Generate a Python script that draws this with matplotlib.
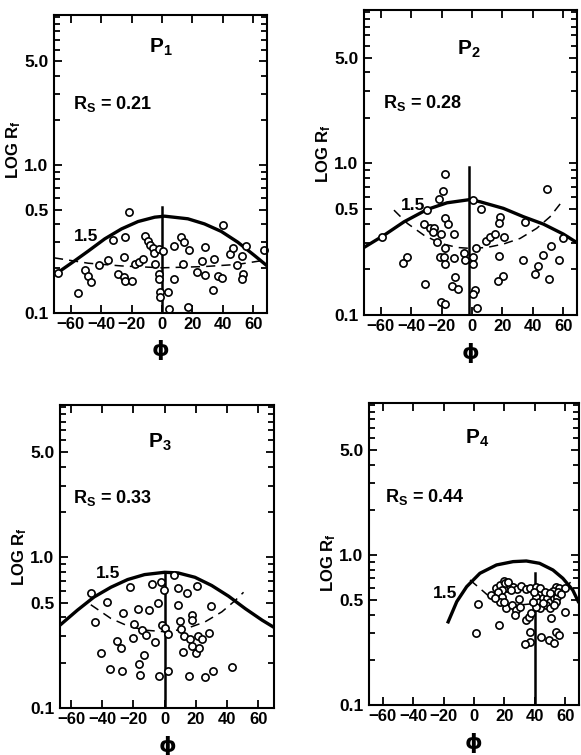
"""
Rf/phi plots for four populations (P1-P4), log Rf against phi
"""
import matplotlib
matplotlib.use('Agg')
import matplotlib.pyplot as plt
from matplotlib.ticker import FixedLocator, FixedFormatter, NullFormatter

FONT = ['Liberation Sans', 'DejaVu Sans']
plt.rcParams['font.family'] = FONT
plt.rcParams['font.weight'] = 'bold'
plt.rcParams['mathtext.fontset'] = 'custom'
plt.rcParams['mathtext.rm'] = 'Liberation Sans:bold'
plt.rcParams['mathtext.it'] = 'Liberation Sans:bold'
plt.rcParams['mathtext.bf'] = 'Liberation Sans:bold'

# --- P1 ---
p1_phi = [-21.8, 40.0, -68.6, -55.5, -50.4, -48.5, -46.7, -41.7, -35.8, -32.3, -28.8, -25.1,
          -24.2, -19.9, -25.3, -24.5, -17.5, -15.1, -12.7, -11.4, -9.4, -7.6, -6.1, -5.2, -4.8,
          -2.2, 0.4, -2.0, -2.0, -1.3, -1.3, 3.7, 4.4, 7.9, 7.9, 12.2, 14.4, 17.7, 14.0, 17.0,
          23.1, 26.0, 28.2, 28.4, 33.6, 34.5, 36.7, 39.5, 44.8, 46.9, 49.1, 52.4, 53.1, 52.6,
          55.5, 66.8]
p1_rf = [0.482, 0.396, 0.186, 0.137, 0.194, 0.178, 0.163, 0.210, 0.228, 0.309, 0.184, 0.176,
         0.165, 0.164, 0.240, 0.324, 0.213, 0.220, 0.230, 0.332, 0.307, 0.289, 0.276, 0.256, 0.214,
         0.272, 0.262, 0.184, 0.171, 0.139, 0.129, 0.139, 0.107, 0.171, 0.284, 0.327, 0.301, 0.267,
         0.216, 0.110, 0.188, 0.226, 0.180, 0.280, 0.142, 0.230, 0.177, 0.172, 0.251, 0.276, 0.210,
         0.242, 0.183, 0.169, 0.282, 0.265]
p1_solid_phi = [-71, -57.2, -48.5, -37.6, -26.6, -15.7, -4.8, 1.7, 17.0, 27.9, 38.9, 49.8, 60.7, 69.4]
p1_solid_rf = [0.180, 0.226, 0.262, 0.317, 0.370, 0.415, 0.444, 0.451, 0.433, 0.400, 0.356, 0.301,
               0.245, 0.207]
p1_dash_phi = [-71, -48.5, -26.6, 0.0, 27.9, 49.8, 69.4]
p1_dash_rf = [0.236, 0.217, 0.208, 0.202, 0.206, 0.213, 0.229]

# --- P2 ---
p2_phi = [-17.9, -19.4, -22.0, 49.1, 0.4, -29.5, 5.9, -59.3, -31.6, -27.7, -24.7, -25.5, -20.7,
          -17.5, -15.7, -12.0, -23.3, -17.5, -21.2, -18.5, -17.5, -11.6, -42.5, -45.2, -31.0,
          -11.1, -13.3, -8.9, -20.1, -17.9, -5.0, -4.4, 0.7, 0.7, 2.8, 1.7, 0.4, 3.3, 18.5, 17.7,
          9.2, 12.0, 15.3, 20.7, 17.7, 20.3, 16.8, 34.5, 33.4, 60.0, 51.7, 46.9, 43.6, 41.7, 50.8,
          57.4]
p2_rf = [0.846, 0.657, 0.584, 0.680, 0.578, 0.492, 0.497, 0.328, 0.398, 0.377, 0.373, 0.351, 0.342,
         0.434, 0.398, 0.342, 0.304, 0.275, 0.242, 0.242, 0.217, 0.236, 0.242, 0.219, 0.159,
         0.179, 0.156, 0.148, 0.122, 0.118, 0.255, 0.230, 0.242, 0.217, 0.275, 0.146, 0.137, 0.112,
         0.445, 0.402, 0.307, 0.328, 0.342, 0.328, 0.245, 0.181, 0.167, 0.412, 0.230, 0.320, 0.285,
         0.250, 0.211, 0.185, 0.173, 0.230]
p2_solid_phi = [-71, -57.8, -44.7, -29.5, -16.4, -1.1, 5.5, 20.7, 33.8, 46.9, 60.0, 69.0]
p2_solid_rf = [0.279, 0.336, 0.412, 0.497, 0.550, 0.578, 0.558, 0.505, 0.445, 0.398, 0.342, 0.300]
p2_dash_phi = [-51.3, -42.5, -31.6, -20.7, -9.8, -1.1, 9.8, 20.7, 31.6, 42.5, 51.3, 58.2]
p2_dash_rf = [0.492, 0.402, 0.336, 0.297, 0.279, 0.275, 0.279, 0.294, 0.320, 0.373, 0.445, 0.545]

# --- P3 ---
p3_phi = [-47.3, -37.2, -44.7, -26.9, -22.2, -16.8, -10.1, -8.0, -2.2, -0.4, -4.3, 6.0, 8.6, 14.0,
          20.4, 8.6, 29.5, -19.8, -14.6, -11.8, -6.5, -20.4, -30.5, -28.0, -40.9, -13.3, -16.6,
          -34.8, -27.5, -16.1, -3.4, 2.2, -1.5, 0.4, 2.2, 9.7, 10.3, 12.3, 17.6, 17.6, 16.1, 17.2,
          11.6, 21.5, 24.1, 28.6, 20.0, 21.9, 15.5, 25.8, 30.8, 43.4]
p3_rf = [0.579, 0.505, 0.373, 0.428, 0.634, 0.452, 0.450, 0.667, 0.691, 0.609, 0.498, 0.769, 0.625,
         0.579, 0.644, 0.485, 0.476, 0.364, 0.329, 0.305, 0.275, 0.292, 0.278, 0.252, 0.233, 0.225,
         0.195, 0.182, 0.175, 0.166, 0.163, 0.177, 0.355, 0.338, 0.311, 0.377, 0.334, 0.302, 0.417,
         0.383, 0.285, 0.259, 0.237, 0.300, 0.286, 0.315, 0.233, 0.249, 0.163, 0.161, 0.176, 0.187]
p3_solid_phi = [-67, -55.9, -45.2, -34.4, -23.7, -12.9, 0.0, 8.6, 19.4, 30.1, 40.9, 51.6, 62.4, 70]
p3_solid_rf = [0.355, 0.446, 0.546, 0.634, 0.713, 0.769, 0.797, 0.789, 0.738, 0.651, 0.553, 0.457,
               0.383, 0.343]
p3_dash_phi = [-47.3, -34.4, -23.7, -12.9, 0.0, 12.9, 25.8, 36.6, 45.2, 50.5]
p3_dash_rf = [0.485, 0.393, 0.351, 0.329, 0.321, 0.334, 0.373, 0.435, 0.518, 0.587]

# --- P4 ---
p4_phi = [2.8, 1.1, 16.6, 11.1, 14.8, 17.4, 19.6, 20.9, 21.8, 23.5, 18.7, 15.9, 18.1, 17.0, 20.9,
          25.7, 28.3, 31.2, 29.6, 34.4, 36.6, 40.5, 43.1, 25.3, 27.9, 26.8, 30.1, 34.4, 36.2, 37.7,
          36.6, 37.0, 33.8, 41.0, 42.7, 45.3, 47.9, 50.1, 52.3, 54.5, 53.6, 47.1, 43.1, 41.0, 49.7,
          52.3, 50.8, 53.6, 56.2, 59.5, 51.9, 55.1, 60.1, 44.2, 49.2, 52.3, 53.6, 56.2, 20.3, 22.4,
          24.6, 13.7, 19.6, 39.2, 46.4, 49.7, 57.3, 38.8, 45.3]
p4_rf = [0.469, 0.300, 0.341, 0.541, 0.599, 0.631, 0.671, 0.631, 0.599, 0.625, 0.584, 0.564, 0.527,
         0.489, 0.446, 0.615, 0.593, 0.625, 0.509, 0.593, 0.606, 0.615, 0.599, 0.464, 0.430, 0.398,
         0.453, 0.369, 0.388, 0.409, 0.305, 0.262, 0.254, 0.527, 0.489, 0.514, 0.519, 0.489, 0.519,
         0.527, 0.489, 0.464, 0.441, 0.453, 0.441, 0.464, 0.378, 0.615, 0.599, 0.606, 0.575, 0.564,
         0.415, 0.286, 0.271, 0.258, 0.308, 0.293, 0.647, 0.657, 0.584, 0.519, 0.489, 0.564, 0.570,
         0.555, 0.547, 0.489, 0.476]
p4_solid_phi = [-17.4, -11.3, -4.8, 3.9, 14.8, 25.7, 34.4, 43.1, 51.9, 58.4, 64.9, 69.0]
p4_solid_rf = [0.350, 0.489, 0.615, 0.755, 0.858, 0.903, 0.912, 0.880, 0.794, 0.699, 0.584, 0.479]
p4_dash_phi = [-2.6, 3.9, 12.6, 21.4, 30.1, 41.0, 54.0, 64.9]
p4_dash_rf = [0.681, 0.599, 0.501, 0.464, 0.464, 0.476, 0.527, 0.681]

rs_values = ['0.21', '0.28', '0.33', '0.44']
vline_phi = [0, -2, 0, 40]
vline_top = [0.52, 0.95, 0.80, 0.76]

y_major = [0.1, 0.5, 1.0, 5.0]
y_major_labels = ['0.1', '0.5', '1.0', '5.0']
y_minor = [0.2, 0.3, 0.4, 0.6, 0.7, 0.8, 0.9, 2, 3, 4, 6, 7, 8, 9, 10]
x_ticks = [-60, -40, -20, 0, 20, 40, 60]
x_tick_labels = ['\u221260', '\u221240', '\u221220', '0', '20', '40', '60']

panels = [
    dict(sub='1', phi=p1_phi, rf=p1_rf, sphi=p1_solid_phi, srf=p1_solid_rf,
         dphi=p1_dash_phi, drf=p1_dash_rf, lab=(-58, 0.33),
         rect=[0.0929, 0.5854, 0.3666, 0.3947], xlim=(-71, 69),
         title=(0.50, 0.89), rs=(0.09, 0.70), ylab=(-0.19, 0.55)),
    dict(sub='2', phi=p2_phi, rf=p2_rf, sphi=p2_solid_phi, srf=p2_solid_rf,
         dphi=p2_dash_phi, drf=p2_dash_rf, lab=(-47, 0.53),
         rect=[0.6265, 0.5828, 0.3666, 0.404], xlim=(-71, 69),
         title=(0.49, 0.87), rs=(0.09, 0.695), ylab=(-0.19, 0.53)),
    dict(sub='3', phi=p3_phi, rf=p3_rf, sphi=p3_solid_phi, srf=p3_solid_rf,
         dphi=p3_dash_phi, drf=p3_dash_rf, lab=(-44, 0.78),
         rect=[0.1033, 0.0623, 0.3683, 0.4013], xlim=(-67, 70),
         title=(0.467, 0.878), rs=(0.06, 0.693), ylab=(-0.19, 0.50)),
    dict(sub='4', phi=p4_phi, rf=p4_rf, sphi=p4_solid_phi, srf=p4_solid_rf,
         dphi=p4_dash_phi, drf=p4_dash_rf, lab=(-27, 0.555),
         rect=[0.6351, 0.0662, 0.3614, 0.40], xlim=(-69, 69),
         title=(0.514, 0.884), rs=(0.076, 0.69), ylab=(-0.19, 0.47)),
]

fig = plt.figure(figsize=(5.81, 7.55), dpi=100)

for i, p in enumerate(panels):
    ax = fig.add_axes(p['rect'])
    ax.set_yscale('log')
    ax.set_ylim(0.1, 10.3)
    ax.set_xlim(*p['xlim'])

    # curves and the axis of symmetry
    ax.plot(p['sphi'], p['srf'], color='black', lw=2.4, solid_capstyle='butt')
    ax.plot(p['dphi'], p['drf'], color='black', lw=1.1, ls=(0, (6, 4)))
    ax.plot([vline_phi[i], vline_phi[i]], [0.1, vline_top[i]], color='black', lw=1.8)
    ax.plot(p['phi'], p['rf'], 'o', ms=5.2, mfc='white', mec='black', mew=1.2, clip_on=False)

    ax.text(p['lab'][0], p['lab'][1], '1.5', fontsize=12.5, ha='left', va='center')
    ax.text(p['title'][0], p['title'][1], 'P$_{' + p['sub'] + '}$', transform=ax.transAxes,
            fontsize=15, ha='center', va='center')
    ax.text(p['rs'][0], p['rs'][1], 'R$_{S}$ = ' + rs_values[i], transform=ax.transAxes,
            fontsize=13, ha='left', va='center')
    ax.text(p['ylab'][0], p['ylab'][1], 'LOG R$_{f}$', transform=ax.transAxes,
            fontsize=12, rotation=90, ha='center', va='center')
    ax.text(0.5, -0.125, '\u03d5', transform=ax.transAxes, fontsize=16,
            ha='center', va='center', family=['DejaVu Sans'])

    ax.yaxis.set_major_locator(FixedLocator(y_major))
    ax.yaxis.set_major_formatter(FixedFormatter(y_major_labels))
    ax.yaxis.set_minor_locator(FixedLocator(y_minor))
    ax.yaxis.set_minor_formatter(NullFormatter())
    ax.set_xticks(x_ticks)
    ax.set_xticklabels(x_tick_labels)

    ax.tick_params(which='both', direction='in', top=True, right=True, width=1.3, pad=4)
    ax.tick_params(axis='y', labelsize=12.5)
    ax.tick_params(axis='x', labelsize=12, pad=3)
    ax.tick_params(which='major', length=6)
    ax.tick_params(which='minor', length=4)
    for s in ax.spines.values():
        s.set_linewidth(1.5)

plt.savefig('out.png', dpi=100)
